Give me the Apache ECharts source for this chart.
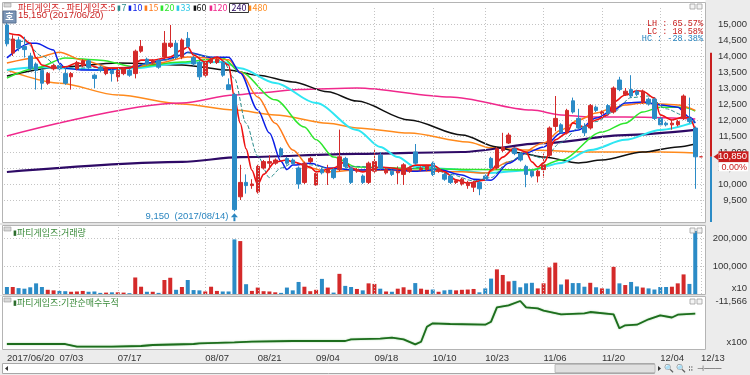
<!DOCTYPE html>
<html><head><meta charset="utf-8">
<script src="https://cdn.jsdelivr.net/npm/echarts@6/dist/echarts.min.js"></script>
<style>html,body{margin:0;padding:0;background:#fff;}#c{width:750px;height:375px;}</style>
</head><body><div id="c"></div>
<script>
// ---------------- DATA ----------------
const dates = ['06/20','06/21','06/22','06/23','06/26','06/27','06/28','06/29','06/30',
'07/03','07/04','07/05','07/06','07/07','07/10','07/11','07/12','07/13','07/14','07/17','07/18','07/19','07/20','07/21','07/24','07/25','07/26','07/27','07/28','07/31',
'08/01','08/02','08/03','08/04','08/07','08/08','08/09','08/10','08/11','08/14','08/16','08/17','08/18','08/21','08/22','08/23','08/24','08/25','08/28','08/29','08/30','08/31',
'09/01','09/04','09/05','09/06','09/07','09/08','09/11','09/12','09/13','09/14','09/15','09/18','09/19','09/20','09/21','09/22','09/25','09/26','09/27','09/28','09/29',
'10/10','10/11','10/12','10/13','10/16','10/17','10/18','10/19','10/20','10/23','10/24','10/25','10/26','10/27','10/30','10/31',
'11/01','11/02','11/03','11/06','11/07','11/08','11/09','11/10','11/13','11/14','11/15','11/16','11/17','11/20','11/21','11/22','11/23','11/24','11/27','11/28','11/29','11/30',
'12/01','12/04','12/05','12/06','12/07','12/08','12/11','12/12','12/13'];
const tickDates = ['06/20','07/03','07/17','08/07','08/21','09/04','09/18','10/10','10/23','11/06','11/20','12/04','12/13'];
const tickTexts = ['2017/06/20','07/03','07/17','08/07','08/21','09/04','09/18','10/10','10/23','11/06','11/20','12/04','12/13'];
const priceTicks = [9500,10000,10500,11000,11500,12000,12500,13000,13500,14000,14500,15000];
const volumeTicks = [100000,200000];

const openP  = [14970,14090,14500,14300,14000,13750,13550,13150,13600,13700,13450,13350,13600,13700,13850,13400,13650,13450,13550,13350,13450,13550,13450,14150,13900,13800,13850,13970,14300,14400,
13970,14550,13950,13800,13400,13800,13800,13800,13100,12800,9600,10050,9950,9750,10500,10650,10650,11100,10800,10750,10500,10050,10700,9970,10450,10350,10450,10450,10800,10500,
10400,10250,10050,10400,10900,10350,10400,10350,10300,10400,11000,10450,10450,10650,10400,10300,10250,10050,10000,9950,9900,10050,10250,10800,10500,11050,11280,11100,10950,10550,
10400,10250,10450,10900,11800,11850,11600,12600,12050,11800,11750,12400,12200,12450,12250,13250,12800,12950,12900,12550,12650,12650,12050,11900,11850,11850,12050,12050,11750,10850];
const closeP = [14380,14530,14250,14200,13600,13550,13150,13450,13700,13600,13150,13450,13800,13850,13650,13300,13550,13600,13450,13550,13600,13400,14150,14300,13750,13850,13650,14400,14400,13950,
14500,14300,13750,13350,13800,13900,13900,13400,12950,9200,10050,9950,10000,10550,10700,10700,10750,10900,10650,10650,10000,10650,10800,10330,10350,10450,10200,10850,10550,10050,
10450,10050,10650,10700,10500,10450,10300,10400,10600,10500,10650,10500,10550,10300,10450,10150,10050,10100,10150,10050,10050,9850,10150,10500,11100,11150,11530,10950,10750,10300,
10250,10400,10600,11750,12050,11600,12300,12250,11750,11600,12450,12300,12250,12200,13000,12950,12900,12750,12800,12900,12500,12050,11850,11850,11900,11950,12750,11950,10850,10850];
const lowP   = [14300,14000,14150,13950,13550,12950,12950,13100,13550,13550,13100,12950,13550,13650,13600,13000,13500,13400,13200,13200,13400,13350,13300,14100,13700,13750,13600,13900,14250,13900,
13900,14250,13700,13250,13350,13750,13750,13350,12950,9150,9500,9700,9850,9700,10450,10450,10600,10850,10600,10600,9850,10000,10650,9950,10300,9970,10150,10400,10500,10000,
10350,10000,10000,10350,10450,10300,10250,10000,9970,10350,10600,10400,10400,10250,10350,10100,10000,10000,9950,9850,9750,9650,10100,10450,10450,11000,11250,10900,10700,9900,
10200,10050,10200,10850,11650,11600,11550,12200,11700,11500,11700,12250,12150,12150,12200,12900,12750,12700,12750,12500,12450,12000,11800,11800,11700,11800,12000,11900,9850,10850];
const highP  = [15150,14650,14600,14600,14100,13800,13600,13500,13750,13750,13650,13500,13850,13900,13900,13450,13700,13650,13600,13600,13650,13600,14200,14500,13950,13900,13900,14780,14970,14500,
14550,14750,14000,13850,13850,13950,13950,13850,13300,12850,10600,10300,10150,10600,10750,10900,10800,11150,10850,10800,10550,10700,10850,10350,10500,10600,10500,11700,10850,10550,
10500,10300,10700,11100,11000,10500,10450,10550,10650,10550,11250,10550,10600,10700,10500,10350,10300,10150,10200,10100,10100,10100,10300,10850,11150,11600,11600,11150,11000,10600,
10450,10450,10950,11800,12750,11900,12350,12700,12350,11900,12500,12450,12300,12500,13050,13350,13000,13400,12950,12950,12700,12700,12100,11950,12000,12000,12800,12700,11800,10850];
const volume = [25000,25000,21000,19000,24000,38000,25000,15000,13000,11000,10000,8000,9000,11000,8000,9000,4000,5000,6000,6000,5000,3000,59000,26000,8000,8000,4000,50000,58000,15000,
25000,50000,14000,13000,9000,26000,11000,9000,9000,195000,189000,35000,11000,23000,10000,9000,6000,4000,23000,13000,43000,26000,10000,15000,54000,23000,5000,72000,29000,25000,
18000,13000,38000,36000,19000,9000,8000,19000,24000,15000,39000,19000,15000,16000,8000,13000,15000,13000,15000,16000,18000,6000,20000,55000,88000,68000,45000,47000,24000,38000,
40000,20000,38000,95000,112000,34000,52000,39000,39000,26000,40000,24000,20000,19000,97000,38000,32000,43000,27000,23000,20000,16000,25000,25000,26000,38000,70000,36000,225000,null];

// moving averages: [day index, price]
const ma5 = [[0,14720],[2,14660],[4,14400],[5,13940],[6,13720],[8,13620],[10,13660],[12,13780],[14,13720],[16,13620],[18,13620],[21,13620],[23,13870],[25,13870],[28,13970],[30,14190],[31,14280],[32,14030],[34,13810],[36,13970],[38,13720],[39,12700],[40,11900],[41,11100],[42,10430],[43,9980],[44,10300],[46,10690],[48,10750],[49,10690],[52,10530],[53,10380],[56,10500],[58,10690],[59,10500],[61,10380],[64,10530],[66,10500],[68,10440],[70,10590],[73,10590],[75,10380],[77,10130],[79,10030],[82,10130],[83,10440],[85,10840],[87,11120],[89,11000],[90,10690],[91,10530],[92,10660],[94,11380],[96,11590],[97,11910],[99,11780],[101,12000],[103,12160],[104,12560],[106,12780],[108,12910],[109,12900],[111,12690],[112,12160],[114,12000],[116,12090],[117,12060],[118,11690]];
const ma7 = [[0,14550],[3,14450],[6,14000],[9,13650],[12,13620],[16,13650],[20,13600],[24,13750],[28,13900],[31,14100],[34,14000],[37,13850],[39,13300],[41,11900],[43,10870],[45,10200],[47,10500],[49,10650],[52,10600],[56,10450],[60,10550],[64,10500],[68,10450],[72,10550],[76,10300],[80,10100],[83,10200],[86,10700],[89,10950],[92,10800],[95,11300],[98,11750],[101,11950],[104,12250],[107,12700],[110,12750],[113,12350],[116,12150],[118,11950]];
const ma10 = [[0,13940],[4,14400],[5,14400],[8,14190],[9,13780],[10,13620],[13,13560],[16,13560],[22,13660],[24,13780],[27,13880],[30,14030],[31,14120],[35,13960],[38,13960],[40,13470],[43,12310],[45,11590],[47,10700],[48,10450],[49,10590],[52,10650],[55,10500],[60,10440],[65,10450],[70,10400],[74,10450],[78,10280],[80,10150],[83,10120],[86,10650],[89,10970],[92,11160],[95,11590],[98,11690],[101,12060],[104,12310],[106,12530],[109,12560],[112,12470],[115,12400],[117,12090],[118,11900]];
const ma15 = [[0,13780],[5,13940],[9,14120],[13,13870],[18,13620],[22,13660],[26,13780],[31,13970],[35,13940],[38,13880],[40,13500],[43,12720],[46,11900],[49,11060],[52,10500],[55,10380],[60,10440],[70,10420],[78,10380],[82,10340],[86,10690],[92,11280],[95,11690],[98,12000],[101,12220],[104,12380],[106,12470],[109,12530],[112,12500],[115,12470],[118,12300]];
const ma20 = [[0,13310],[5,13620],[10,13940],[16,13870],[22,13660],[30,13810],[37,13940],[40,13500],[46,12630],[51,11780],[53,11380],[56,10840],[60,10530],[70,10480],[80,10450],[90,10440],[95,10750],[102,11625],[106,11900],[109,12250],[112,12400],[116,12400],[118,12280]];
const ma33 = [[0,13560],[5,13650],[10,13620],[16,13560],[22,13620],[30,13780],[37,13810],[40,13620],[46,13160],[53,12530],[60,11690],[64,11160],[67,10840],[70,10530],[76,10470],[82,10340],[90,10440],[95,10660],[100,11060],[106,11380],[112,11690],[118,11940]];
const ma60 = [[0,13375],[9,13650],[19,13780],[30,13720],[38,13560],[43,13400],[49,13190],[55,12880],[60,12590],[69,12000],[78,11530],[84,11160],[88,10970],[92,10840],[98,10660],[102,10750],[109,11000],[115,11160],[118,11250]];
const ma120 = [[0,11500],[30,12530],[39,12780],[43,12840],[50,12950],[60,13000],[76,12720],[90,12310],[95,12160],[100,12090],[106,12090],[118,12030]];
const ma240 = [[0,10375],[30,10690],[40,10840],[60,10940],[78,11000],[92,11280],[106,11530],[118,11690]];
const ma480 = [[0,13560],[9,13150],[19,12780],[30,12500],[39,12310],[46,12160],[55,11900],[60,11750],[69,11590],[79,11310],[83,11130],[89,11060],[100,11000],[112,11000],[118,10970]];
// institutional net buying, cumulative (x100 shares): [day index, value]
const instCum = [[0,-37370],[10,-37370],[12,-38990],[18,-38990],[23,-38570],[25,-37970],[32,-37370],[33,-36950],[39,-36350],[42,-35990],[49,-35570],[58,-35570],[59,-34550],[64,-34190],[66,-33590],[68,-34550],[70,-37550],[71,-35990],[72,-26990],[73,-24950],[76,-25370],[82,-25790],[83,-23990],[84,-15350],[86,-14150],[88,-11566],[89,-15350],[91,-15950],[92,-17390],[95,-19550],[99,-18950],[100,-18170],[104,-19550],[105,-27950],[106,-26150],[108,-25790],[110,-22550],[112,-20150],[114,-21470],[115,-19790],[118,-19190]];
const instMax = -11566, instMin = -40366;
const lastClose = 10850, rangeTop = 14100, lowIdx = 39, lowVal = 9150, highIdx = 0, highVal = 15150;
const statLH = '65.57%', statLC = '18.58%', statHC = '-28.38%', changePct = '0.00%';

// ---------------- CHART ----------------
const UP = '#d42a2a', DOWN = '#2b8bc6';
const FONT = '"Liberation Sans", Arial, sans-serif';
const KFONT = '"Noto Sans CJK KR", sans-serif';
const candle = dates.map((d, i) => [openP[i], closeP[i], lowP[i], highP[i]]);
const isUp = i => closeP[i] >= openP[i];
const fmt = v => v.toLocaleString('en-US');
const vIdx = [9,19,34,43,53,63,73,82,92,102,112,119];
const vLines = vIdx.map(i => ({xAxis: dates[i]}));
const gridMark = {silent:true, symbol:'none', animation:false, label:{show:false},
  lineStyle:{type:[1,2], color:'#c4c4c4', width:1}, data: vLines};

function maSeries(name, data, color, width, dashed) {
  return {name, type:'line', xAxisIndex:0, yAxisIndex:0, data, symbol:'none', smooth:0.3, smoothMonotone:'x',
    lineStyle:{color, width: width || 1.5, type: dashed ? [4,2] : 'solid'}, z:3, silent:true};
}

const chart = echarts.init(document.getElementById('c'), null, {renderer:'canvas'});
const catAxis = (gi, labels) => ({type:'category', gridIndex:gi, data:dates, boundaryGap:true,
  axisLine:{show:false}, axisTick:{show:false}, splitLine:{show:false},
  axisLabel: labels ? {show:true, interval:(idx, val) => tickDates.includes(val), align:'left', margin:4,
     formatter: v => tickTexts[tickDates.indexOf(v)], fontSize:9.5, color:'#333', fontFamily:FONT} : {show:false}});

chart.setOption({
  animation:false,
  grid:[
    {left:4, top:8, width:700, height:208},
    {left:4, top:226.8, width:700, height:67.2},
    {left:4, top:301, width:700, height:48}
  ],
  xAxis:[catAxis(0,false), catAxis(1,false), catAxis(2,true)],
  yAxis:[
    {type:'value', gridIndex:0, position:'right', min:9000, max:15500, interval:500,
     axisLine:{show:false}, axisTick:{show:false},
     splitLine:{show:true, showMinLine:false, showMaxLine:false, lineStyle:{type:[1,2], color:'#c4c4c4'}},
     axisLabel:{align:'right', margin:43, fontSize:9.5, color:'#333', fontFamily:FONT,
       formatter: v => priceTicks.includes(v) ? fmt(v) : ''}},
    {type:'value', gridIndex:1, position:'right', min:0, max:240000, interval:100000,
     axisLine:{show:false}, axisTick:{show:false},
     splitLine:{show:true, showMinLine:false, showMaxLine:false, lineStyle:{type:[1,2], color:'#c4c4c4'}},
     axisLabel:{align:'right', margin:43, fontSize:9.5, color:'#333', fontFamily:FONT,
       formatter: v => volumeTicks.includes(v) ? fmt(v) : ''}},
    {type:'value', gridIndex:2, position:'right', min:instMin, max:instMax,
     axisLine:{show:false}, axisTick:{show:false}, splitLine:{show:false},
     axisLabel:{align:'right', margin:43, fontSize:9.5, color:'#333', fontFamily:FONT,
       customValues:[instMax], formatter: v => fmt(v)}}
  ],
  series:[
    {type:'line', xAxisIndex:0, yAxisIndex:0, data:dates.map(() => null), z:1, markLine:gridMark},
    {type:'line', xAxisIndex:1, yAxisIndex:1, data:dates.map(() => null), z:1, markLine:gridMark},
    maSeries('480', ma480, '#ff8a1c', 1.5),
    maSeries('240', ma240, '#2e0a66', 2.2),
    maSeries('120', ma120, '#f0288c', 1.5),
    maSeries('60', ma60, '#101010', 1.5),
    maSeries('33', ma33, '#2ee6f2', 2),
    maSeries('20', ma20, '#2ee62e', 1.5),
    maSeries('15', ma15, '#ff7a1a', 1.5),
    {type:'candlestick', xAxisIndex:0, yAxisIndex:0, data:candle, barWidth:4, z:4,
     itemStyle:{color:UP, color0:DOWN, borderColor:UP, borderColor0:DOWN, borderWidth:1}},
    maSeries('10', ma10, '#0a1ee6', 1.5),
    maSeries('7', ma7, '#2a8c8c', 1, true),
    maSeries('5', ma5, '#ee1111', 1.6),
    {type:'bar', xAxisIndex:1, yAxisIndex:1, data:volume, barWidth:4, z:3,
     itemStyle:{color: p => isUp(p.dataIndex) ? UP : DOWN}},
    {type:'line', xAxisIndex:2, yAxisIndex:2, data:instCum, symbol:'none',
     lineStyle:{color:'#1d6d1d', width:1.8, shadowColor:'rgba(60,160,60,0.6)', shadowBlur:1.5}, z:3}
  ]
});

// ----- decorations placed from data through the chart's scales -----
const px = (gi, x, y) => chart.convertToPixel({gridIndex:gi}, [x, y]);
const pLast = px(0, 119, lastClose), pTop = px(0, 119, rangeTop);
const pLow = px(0, lowIdx, lowVal), pHigh = px(0, highIdx, highVal);
const yLast = pLast[1];

const g = [];
g.push({type:'rect', shape:{x:705.5, y:0, width:45, height:375}, style:{fill:'#ececec'}, z:-10, silent:true});
g.push({type:'rect', shape:{x:0, y:350, width:750, height:25}, style:{fill:'#ececec'}, z:-10, silent:true});
[[2.5,2.5,703,220],[2.5,225.5,703,69],[2.5,296.5,703,53]].forEach(r =>
  g.push({type:'rect', shape:{x:r[0], y:r[1], width:r[2], height:r[3]}, style:{fill:'none', stroke:'#b4b4b4', lineWidth:1}, z:-5, silent:true}));
[[223,225],[295,296]].forEach(r => g.push({type:'rect', shape:{x:0,y:r[0],width:706,height:r[1]-r[0]}, style:{fill:'#e4e4e4'}, z:-6}));
[[4],[228],[299]].forEach((r,k) => {
  [690,697].forEach(x => g.push({type:'rect', shape:{x:x, y:r[0], width:5, height:5}, style:{fill:'#f4f4f4', stroke:'#a0a0a0', lineWidth:0.8}, z:20}));
  g.push({type:'rect', shape:{x:4, y:r[0]-1, width:7, height:4}, style:{fill:'#d8d8d8', stroke:'#9a9a9a', lineWidth:0.6}, z:20});
});
g.push({type:'line', shape:{x1:711, y1:pTop[1], x2:711, y2:yLast}, style:{stroke:'#c81e1e', lineWidth:2}, z:10});
g.push({type:'line', shape:{x1:711, y1:yLast, x2:711, y2:222}, style:{stroke:'#2b8bc6', lineWidth:2}, z:10});
g.push({type:'polygon', shape:{points:[[713.5,yLast],[718.5,yLast-3.5],[718.5,yLast+3.5]]}, style:{fill:'#c81e1e'}, z:11});
g.push({type:'rect', shape:{x:718.5, y:yLast-5.5, width:30, height:11}, style:{fill:'#c81e1e'}, z:11});
g.push({type:'text', x:747, y:yLast, style:{text:fmt(lastClose), fill:'#fff', font:'9.5px '+FONT, align:'right', verticalAlign:'middle'}, z:12});
g.push({type:'rect', shape:{x:719, y:yLast+5.5, width:29, height:9}, style:{fill:'#fff'}, z:11});
g.push({type:'text', x:747, y:yLast+10.5, style:{text:changePct, fill:'#c81e1e', font:'9px '+FONT, align:'right', verticalAlign:'middle'}, z:12});
[['LH : ', statLH, '#c81e1e', 24],['LC : ', statLC, '#c81e1e', 31.5],['HC : ', statHC, '#2b86c0', 39]].forEach(s =>
  g.push({type:'text', x:703, y:s[3], style:{text:s[0]+s[1], fill:s[2], font:'8.5px "Liberation Mono", monospace', align:'right', verticalAlign:'middle'}, z:12}));
g.push({type:'polygon', shape:{points:[[pLow[0],pLow[1]+2],[pLow[0]-3.5,pLow[1]+6],[pLow[0]+3.5,pLow[1]+6]]}, style:{fill:'#2b86c0'}, z:12});
g.push({type:'rect', shape:{x:pLow[0]-1, y:pLow[1]+6, width:2, height:4}, style:{fill:'#2b86c0'}, z:12});
g.push({type:'text', x:pLow[0]-6, y:pLow[1]+5, style:{text:fmt(lowVal)+'  ('+'2017/'+dates[lowIdx]+')', fill:'#2b86c0', font:'9.5px '+FONT, align:'right', verticalAlign:'middle'}, z:12});
g.push({type:'text', x:pHigh[0]+11, y:pHigh[1]-4, style:{text:fmt(highVal)+' (2017/'+dates[highIdx]+')', fill:'#c81e1e', font:'9.5px '+FONT, align:'left', verticalAlign:'middle'}, z:12});
g.push({type:'rect', shape:{x:3, y:11, width:13, height:12}, style:{fill:'#7b95b6', stroke:'#5a7191', lineWidth:1}, z:13});
g.push({type:'text', x:9.5, y:17, style:{text:'호', fill:'#fff', font:'bold 9px '+KFONT, align:'center', verticalAlign:'middle'}, z:14});
g.push({type:'text', x:18, y:8, z:15, style:{font:'9px '+KFONT, verticalAlign:'middle',
  text:'{r|파티게임즈 - 파티게임즈:5} {s7|▮}{t7|7} {s10|▮}{t10|10} {s15|▮}{t15|15} {s20|▮}{t20|20} {s33|▮}{t33|33} {s60|▮}{t60|60} {s120|▮}{t120|120} {b240|240}{s480|▮}{t480|480}',
  rich:{r:{fill:'#d02020', font:'9px '+KFONT},
    s7:{fill:'#2a8c8c', fontSize:7}, t7:{fill:'#2a8c8c'},
    s10:{fill:'#0a1ee6', fontSize:7}, t10:{fill:'#0a1ee6'},
    s15:{fill:'#ff7a1a', fontSize:7}, t15:{fill:'#ff7a1a'},
    s20:{fill:'#2ee62e', fontSize:7}, t20:{fill:'#2ee62e'},
    s33:{fill:'#2ec8e6', fontSize:7}, t33:{fill:'#2ec8e6'},
    s60:{fill:'#101010', fontSize:7}, t60:{fill:'#101010'},
    s120:{fill:'#f0288c', fontSize:7}, t120:{fill:'#f0288c'},
    b240:{fill:'#2e0a66', borderColor:'#333', borderWidth:1, padding:[0,2]},
    s480:{fill:'#ff8a1c', fontSize:7}, t480:{fill:'#ff8a1c'}}}});
g.push({type:'text', x:13, y:233, z:15, style:{text:'{s|▮}파티게임즈:거래량', fill:'#3a8a3a', font:'9px '+KFONT, verticalAlign:'middle', rich:{s:{fill:'#2d6d2d', fontSize:7}}}});
g.push({type:'text', x:13, y:303, z:15, style:{text:'{s|▮}파티게임즈:기관순매수누적', fill:'#3a8a3a', font:'9px '+KFONT, verticalAlign:'middle', rich:{s:{fill:'#2d6d2d', fontSize:7}}}});
g.push({type:'text', x:747, y:288, z:15, style:{text:'x10', fill:'#333', font:'9.5px '+FONT, align:'right', verticalAlign:'middle'}});
g.push({type:'text', x:747, y:342, z:15, style:{text:'x100', fill:'#333', font:'9.5px '+FONT, align:'right', verticalAlign:'middle'}});
g.push({type:'rect', shape:{x:2.5, y:363.5, width:652, height:10}, style:{fill:'#fff', stroke:'#a8a8a8', lineWidth:1}, z:5});
g.push({type:'rect', shape:{x:555, y:364.5, width:100, height:8}, style:{fill:'#e0e0e0', stroke:'#b0b0b0', lineWidth:0.8}, z:6});
g.push({type:'polygon', shape:{points:[[5,368.5],[8,366],[8,371]]}, style:{fill:'#333'}, z:7});
g.push({type:'polygon', shape:{points:[[661,368.5],[658,366],[658,371]]}, style:{fill:'#333'}, z:7});
g.push({type:'text', x:664, y:368.5, z:7, style:{text:'🔍 🔍 ⁞⁞  ⊣───', fill:'#444', font:'8px '+FONT, verticalAlign:'middle'}});

chart.setOption({graphic:g});
</script>
</body></html>
